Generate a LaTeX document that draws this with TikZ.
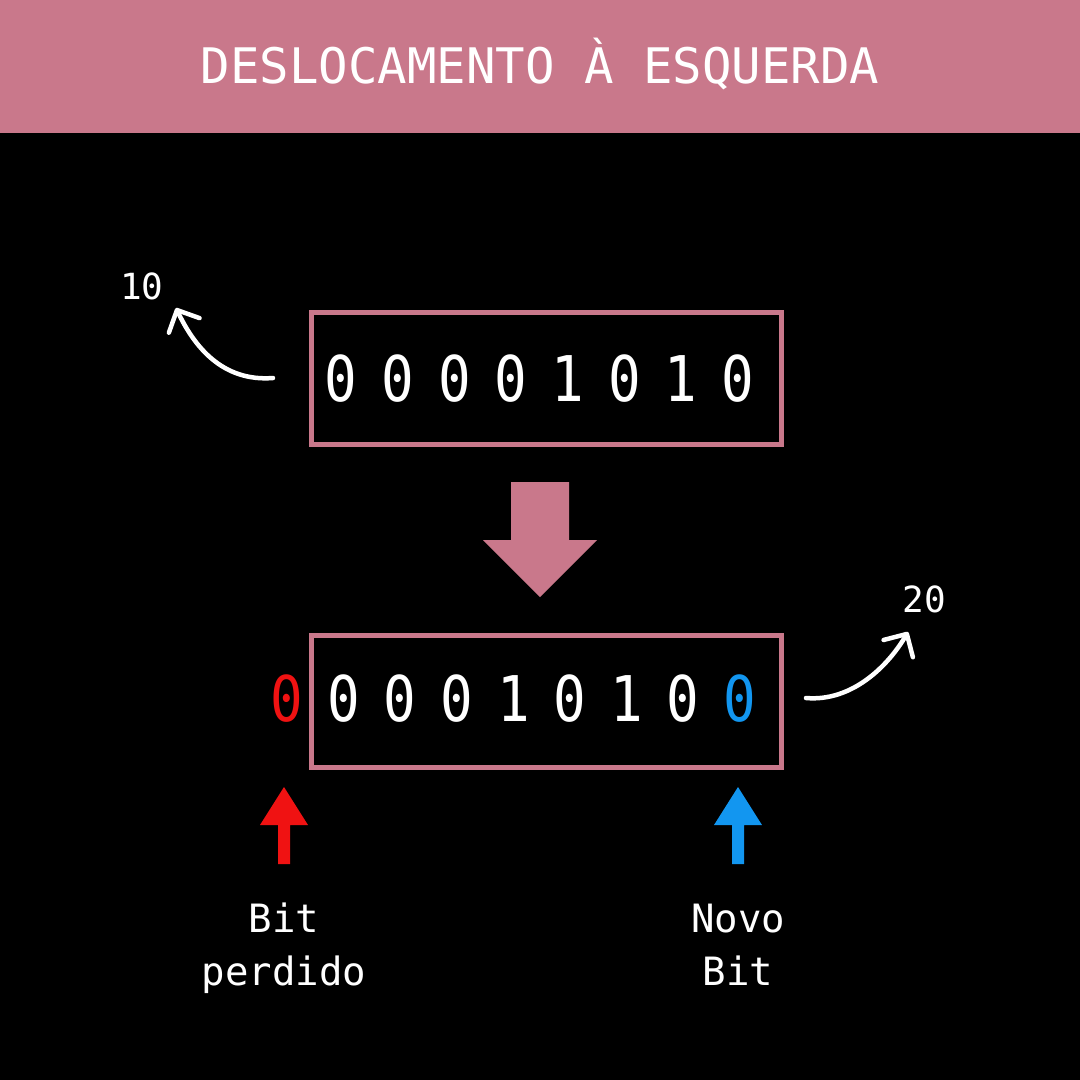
\documentclass[tikz,border=0pt]{standalone}
\usepackage{fontspec}
\newfontfamily\mono{DejaVu Sans Mono}
\newfontfamily\monodigits[FakeStretch=0.86]{DejaVu Sans Mono}
\usetikzlibrary{arrows.meta}
\definecolor{rose}{RGB}{201,120,139}
\definecolor{lostred}{RGB}{240,18,18}
\definecolor{newblue}{RGB}{18,150,240}
\begin{document}
\begin{tikzpicture}[x=1pt,y=-1pt,
  titletext/.style={text=white, inner sep=0pt, anchor=base, font=\mono\fontsize{49}{49}\selectfont},
  digit/.style={text=white, inner sep=0pt, anchor=base, font=\monodigits\fontsize{63}{63}\selectfont},
  smalltext/.style={text=white, inner sep=0pt, anchor=base, font=\mono\fontsize{36}{36}\selectfont},
  labeltext/.style={text=white, inner sep=0pt, anchor=base, font=\mono\fontsize{39}{39}\selectfont},
  bitbox/.style={draw=rose, line width=5pt, minimum width=470pt, minimum height=132pt, inner sep=0pt},
  curvy/.style={draw=white, line width=4.5pt, line cap=round,
     -{Straight Barb[length=17pt,width=34pt,round,line width=4.5pt]}}
]
\useasboundingbox (0,0) rectangle (1080,1080);
\fill[black] (0,0) rectangle (1080,1080);
\fill[rose] (0,0) rectangle (1080,132.5);
\node[titletext] (title) at (540,83) {DESLOCAMENTO À ESQUERDA};

% boxes
\node[bitbox] (box1) at (546.5,378.5) {};
\node[bitbox] (box2) at (546.5,701) {};

% digits of box 1
\foreach \d [count=\i] in {0,0,0,0,1,0,1,0} {
  \node[digit] (a\i) at ({341+56.7*(\i-1)},401) {\d};
}
% digits of box 2
\node[digit, text=lostred] (lost) at (287,721) {0};
\foreach \d [count=\i] in {0,0,0,1,0,1,0} {
  \node[digit] (b\i) at ({343.6+56.6*(\i-1)},721) {\d};
}
\node[digit, text=newblue] (new) at (739.8,721) {0};

% values
\node[smalltext] (ten) at (142,299) {10};
\node[smalltext] (twenty) at (924,612) {20};

% curved arrows
\coordinate (t1) at (273,378);
\coordinate (h1) at (176,308);
\draw[curvy] (t1) .. controls (222,382) and (194,346) .. (h1);
\coordinate (t2) at (806,698);
\coordinate (h2) at (908,632);
\draw[curvy] (t2) .. controls (852,702) and (888,666) .. (h2);

% big down arrow between boxes
\fill[rose] (511,482) -- (569,482) -- (569,540) -- (597,540) -- (540,597)
  -- (483,540) -- (511,540) -- cycle;

% up arrows
\fill[lostred] (278,864) -- (290,864) -- (290,825) -- (308,825) -- (284,787)
  -- (260,825) -- (278,825) -- cycle;
\fill[newblue] (732,864) -- (744,864) -- (744,825) -- (762,825) -- (738,787)
  -- (714,825) -- (732,825) -- cycle;

% labels
\node[labeltext] (lbl1a) at (284,932) {Bit};
\node[labeltext] (lbl1b) at (284,985) {perdido};
\node[labeltext] (lbl2a) at (738,932) {Novo};
\node[labeltext] (lbl2b) at (738,985) {Bit};
\end{tikzpicture}
\end{document}
